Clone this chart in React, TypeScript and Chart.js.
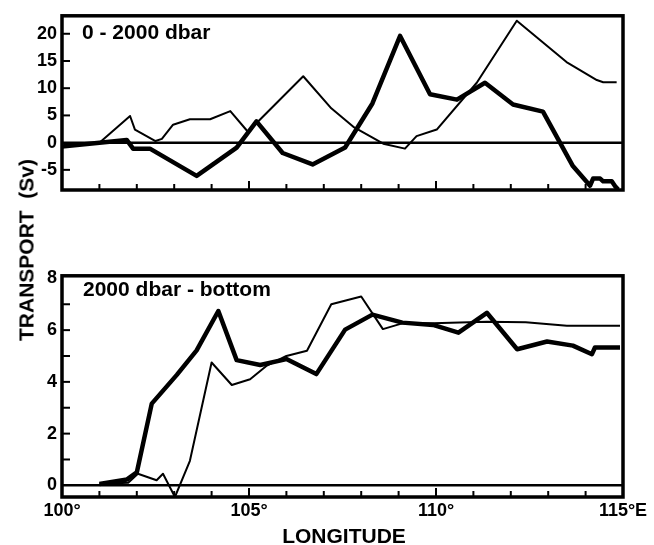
import React, { useEffect, useRef } from 'react';
import { Chart, registerables } from 'chart.js';

Chart.register(...registerables);

const FONT = '"Liberation Sans", Arial, Helvetica, sans-serif';

// ---- Upper panel: 0 - 2000 dbar (Sv) ----
const upperThinLon = [101.0, 101.82, 101.95, 102.5, 102.67, 102.97, 103.42, 103.96, 104.5, 104.97, 106.45, 107.2, 107.79, 108.59, 109.17, 109.48, 110.02, 111.09, 112.16, 113.49, 114.3, 114.47, 114.83];
const upperThinSv = [0.0, 4.9, 2.4, 0.3, 0.7, 3.3, 4.3, 4.3, 5.8, 2.0, 12.2, 6.3, 2.9, -0.2, -1.1, 1.2, 2.4, 11.0, 22.4, 14.8, 11.5, 11.1, 11.1];

const upperThickLon = [100.0, 101.0, 101.73, 101.9, 102.35, 103.6, 104.67, 105.2, 105.9, 106.7, 107.57, 108.3, 109.04, 109.84, 110.56, 111.31, 112.06, 112.86, 113.66, 114.12, 114.2, 114.39, 114.47, 114.7, 114.79, 114.87];
const upperThickSv = [-0.7, 0.0, 0.5, -1.1, -1.1, -6.1, -0.9, 3.9, -1.9, -4.0, -0.9, 7.2, 19.6, 8.9, 7.9, 11.0, 7.0, 5.7, -4.3, -7.9, -6.6, -6.6, -7.1, -7.1, -8.0, -8.6];

// ---- Lower panel: 2000 dbar - bottom (Sv) ----
const lowerThinLon = [101.0, 101.77, 102.03, 102.53, 102.7, 103.02, 103.42, 104.0, 104.54, 105.03, 105.48, 106.0, 106.55, 107.2, 108.0, 108.58, 109.12, 109.92, 111.36, 112.4, 113.5, 114.92];
const lowerThinSv = [0.05, 0.1, 0.45, 0.2, 0.45, -0.45, 0.95, 4.75, 3.88, 4.1, 4.63, 5.0, 5.2, 7.0, 7.3, 6.04, 6.27, 6.27, 6.32, 6.3, 6.17, 6.17];

const lowerThickLon = [101.0, 101.74, 102.0, 102.4, 103.07, 103.6, 104.18, 104.67, 105.3, 106.0, 106.8, 107.57, 108.3, 109.1, 109.92, 110.6, 111.36, 112.17, 112.97, 113.66, 114.17, 114.25, 114.92];
const lowerThickSv = [0.05, 0.23, 0.5, 3.16, 4.27, 5.22, 6.74, 4.84, 4.65, 4.88, 4.3, 6.02, 6.6, 6.29, 6.2, 5.9, 6.67, 5.26, 5.56, 5.4, 5.07, 5.33, 5.33];

// ---- Axes ----
const lonTicks = [100, 105, 110, 115];
const lonTickLabels = ['100°', '105°', '110°', '115°E'];
const lonMarks = [101, 102, 103, 104, 105, 106, 107, 108, 109, 110, 111, 112, 113, 114];
const upperTicks = [-5, 0, 5, 10, 15, 20];
const upperMarks = [-5, 5, 10, 15, 20];
const lowerTicks = [0, 2, 4, 6, 8];
const lowerMarks = [1, 2, 3, 4, 5, 6, 7];

const pts = (xs: number[], ys: number[]) => xs.map((x, i) => ({ x, y: ys[i] }));

const framePlugin = {
  id: 'frame',
  beforeDatasetsDraw(chart: any, _args: any, opts: any) {
    const { ctx, chartArea, scales } = chart;
    const { left, right, top, bottom } = chartArea;
    ctx.save();
    ctx.strokeStyle = '#000';
    ctx.lineCap = 'butt';
    // zero line
    ctx.lineWidth = 2.5;
    const y0 = scales.y.getPixelForValue(0);
    ctx.beginPath();
    ctx.moveTo(left, y0);
    ctx.lineTo(right, y0);
    ctx.stroke();
    // inward x tick marks
    ctx.lineWidth = 2;
    for (const v of lonMarks) {
      const x = scales.x.getPixelForValue(v);
      const len = v % 5 === 0 ? 9 : 6;
      ctx.beginPath();
      ctx.moveTo(x, bottom);
      ctx.lineTo(x, bottom - len);
      ctx.stroke();
    }
    // inward y tick marks
    for (const v of opts.yMarks || []) {
      const y = scales.y.getPixelForValue(v);
      ctx.beginPath();
      ctx.moveTo(left, y);
      ctx.lineTo(left + 8, y);
      ctx.stroke();
    }
    ctx.restore();
  },
  afterDatasetsDraw(chart: any) {
    const { ctx, chartArea } = chart;
    const { left, right, top, bottom } = chartArea;
    ctx.save();
    ctx.strokeStyle = '#000';
    ctx.lineWidth = 3.5;
    ctx.strokeRect(left, top, right - left, bottom - top);
    ctx.restore();
  },
};

function makeConfig(
  thin: { x: number; y: number }[],
  thick: { x: number; y: number }[],
  yMin: number,
  yMax: number,
  yTicks: number[],
  yMarks: number[],
  showX: boolean,
  padding: any
): any {
  return {
    type: 'line',
    data: {
      datasets: [
        { data: thin, borderColor: '#000', borderWidth: 2, pointRadius: 0, tension: 0, fill: false, borderJoinStyle: 'round' },
        { data: thick, borderColor: '#000', borderWidth: 4.5, pointRadius: 0, tension: 0, fill: false, borderJoinStyle: 'round' },
      ],
    },
    options: {
      responsive: false,
      animation: false,
      layout: { padding },
      plugins: {
        legend: { display: false },
        tooltip: { enabled: false },
        frame: { yMarks },
      },
      scales: {
        x: {
          type: 'linear',
          min: 100,
          max: 115,
          display: showX,
          afterBuildTicks: (axis: any) => {
            axis.ticks = lonTicks.map((v) => ({ value: v }));
          },
          afterFit: (axis: any) => {
            axis.height = 48;
          },
          ticks: {
            autoSkip: false,
            maxRotation: 0,
            padding: 3,
            color: '#000',
            font: { family: FONT, size: 18, weight: 'bold' },
            callback: (v: number) => lonTickLabels[lonTicks.indexOf(v)] ?? '',
          },
          grid: { display: false, drawTicks: false },
          border: { display: false },
        },
        y: {
          type: 'linear',
          min: yMin,
          max: yMax,
          afterBuildTicks: (axis: any) => {
            axis.ticks = yTicks.map((v) => ({ value: v }));
          },
          afterFit: (axis: any) => {
            axis.width = 62;
          },
          ticks: {
            padding: 5,
            color: '#000',
            font: { family: FONT, size: 18, weight: 'bold' },
          },
          grid: { display: false, drawTicks: false },
          border: { display: false },
        },
      },
    },
    plugins: [framePlugin],
  };
}

function Panel(props: { top: number; height: number; config: any }) {
  const ref = useRef<HTMLCanvasElement>(null);
  useEffect(() => {
    if (!ref.current) return;
    const chart = new Chart(ref.current, props.config);
    return () => chart.destroy();
  }, []);
  return (
    <canvas
      ref={ref}
      width={654}
      height={props.height}
      style={{ position: 'absolute', left: 0, top: props.top, width: 654, height: props.height }}
    />
  );
}

const textBase: React.CSSProperties = {
  position: 'absolute',
  fontFamily: FONT,
  fontWeight: 'bold',
  fontSize: 21,
  lineHeight: '21px',
  color: '#000',
  whiteSpace: 'pre',
};

export default function App() {
  const upperCfg = makeConfig(
    pts(upperThinLon, upperThinSv),
    pts(upperThickLon, upperThickSv),
    -8.7,
    23.3,
    upperTicks,
    upperMarks,
    false,
    { left: 0, right: 31, top: 14, bottom: 12 }
  );
  const lowerCfg = makeConfig(
    pts(lowerThinLon, lowerThinSv),
    pts(lowerThickLon, lowerThickSv),
    -0.45,
    8.1,
    lowerTicks,
    lowerMarks,
    true,
    { left: 0, right: 31, top: 12, bottom: 0 }
  );
  return (
    <div style={{ position: 'absolute', left: 0, top: 0, width: 654, height: 545, background: '#fff' }}>
      <Panel top={0} height={250} config={upperCfg} />
      <Panel top={260} height={285} config={lowerCfg} />
      <div style={{ ...textBase, left: 82, top: 21 }}>0 - 2000 dbar</div>
      <div style={{ ...textBase, left: 83, top: 278 }}>2000 dbar - bottom</div>
      <div style={{ ...textBase, left: 344, top: 525, transform: 'translateX(-50%)' }}>LONGITUDE</div>
      <div
        style={{
          ...textBase,
          left: 26,
          top: 250,
          transform: 'translate(-50%, -50%) rotate(-90deg)',
        }}
      >
        TRANSPORT  (Sv)
      </div>
    </div>
  );
}
